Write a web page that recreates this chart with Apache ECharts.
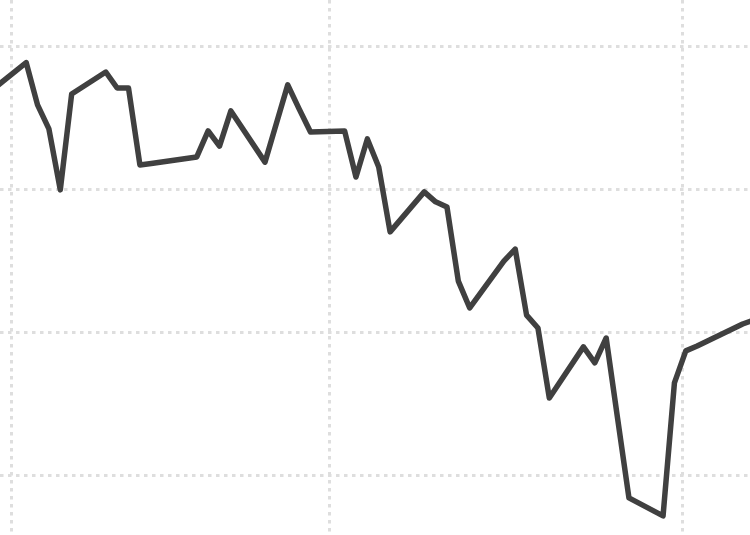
<!DOCTYPE html>
<html>
<head>
<meta charset="utf-8">
<script src="https://cdn.jsdelivr.net/npm/echarts@6/dist/echarts.min.js"></script>
<style>
html,body{margin:0;padding:0;background:#fff;}
#chart{width:750px;height:535px;}
</style>
</head>
<body>
<div id="chart"></div>
<script>
const dates = [
  '2015-01-30','2015-02-02','2015-02-03','2015-02-04','2015-02-05','2015-02-06',
  '2015-02-09','2015-02-10','2015-02-11','2015-02-12','2015-02-13',
  '2015-02-17','2015-02-18','2015-02-19','2015-02-20',
  '2015-02-23','2015-02-24','2015-02-25','2015-02-26','2015-02-27',
  '2015-03-02','2015-03-03','2015-03-04','2015-03-05','2015-03-06',
  '2015-03-09','2015-03-10','2015-03-11','2015-03-12','2015-03-13',
  '2015-03-16','2015-03-17','2015-03-18','2015-03-19','2015-03-20',
  '2015-03-23','2015-03-24','2015-03-25','2015-03-26','2015-03-27',
  '2015-03-30','2015-03-31','2015-04-01','2015-04-02',
  '2015-04-06','2015-04-07'
];
const values = [
  93.46, 94.42, 92.94, 92.10, 89.97, 93.32,
  94.09, 93.53, 93.53, 90.84, 90.89,
  91.12, 92.03, 91.50, 92.73,
  90.94, 92.29, 93.64, 92.80, 91.99,
  92.03, 90.42, 91.75, 90.77, 88.50,
  89.90, 89.55, 89.37, 86.78, 85.84,
  87.48, 87.90, 85.59, 85.14, 82.69,
  84.48, 83.92, 84.79, 81.99, 79.20,
  78.57, 83.22, 84.34, 84.51,
  85.28, 85.42
];
// visible value range of the chart (ticks fall at 80, 85, 90, 95)
const yRange = [77.902, 96.608];
const xRange = ['2015-01-31 00:47', '2015-04-06 23:30'];

const seriesData = dates.map((d, i) => [d + ' 08:00', values[i]]);

const gridLine = { color: '#dedede', width: 3, type: [3.5, 4.5] };

const chart = echarts.init(document.getElementById('chart'));
chart.setOption({
  animation: false,
  backgroundColor: '#ffffff',
  grid: { left: 0, right: 0, top: 0, bottom: 0, containLabel: false },
  xAxis: {
    type: 'time',
    min: xRange[0],
    max: xRange[1],
    splitNumber: 2,
    axisLine: { show: false },
    axisTick: { show: false },
    axisLabel: { show: false },
    splitLine: { show: true, showMinLine: false, showMaxLine: false, lineStyle: gridLine }
  },
  yAxis: {
    type: 'value',
    min: yRange[0],
    max: yRange[1],
    splitNumber: 4,
    axisLine: { show: false },
    axisTick: { show: false },
    axisLabel: { show: false },
    splitLine: { show: true, showMinLine: false, showMaxLine: false, lineStyle: gridLine }
  },
  series: [{
    type: 'line',
    data: seriesData,
    showSymbol: false,
    symbol: 'none',
    clip: true,
    lineStyle: { color: '#404040', width: 5.5, join: 'round', cap: 'round' }
  }]
});
</script>
</body>
</html>
